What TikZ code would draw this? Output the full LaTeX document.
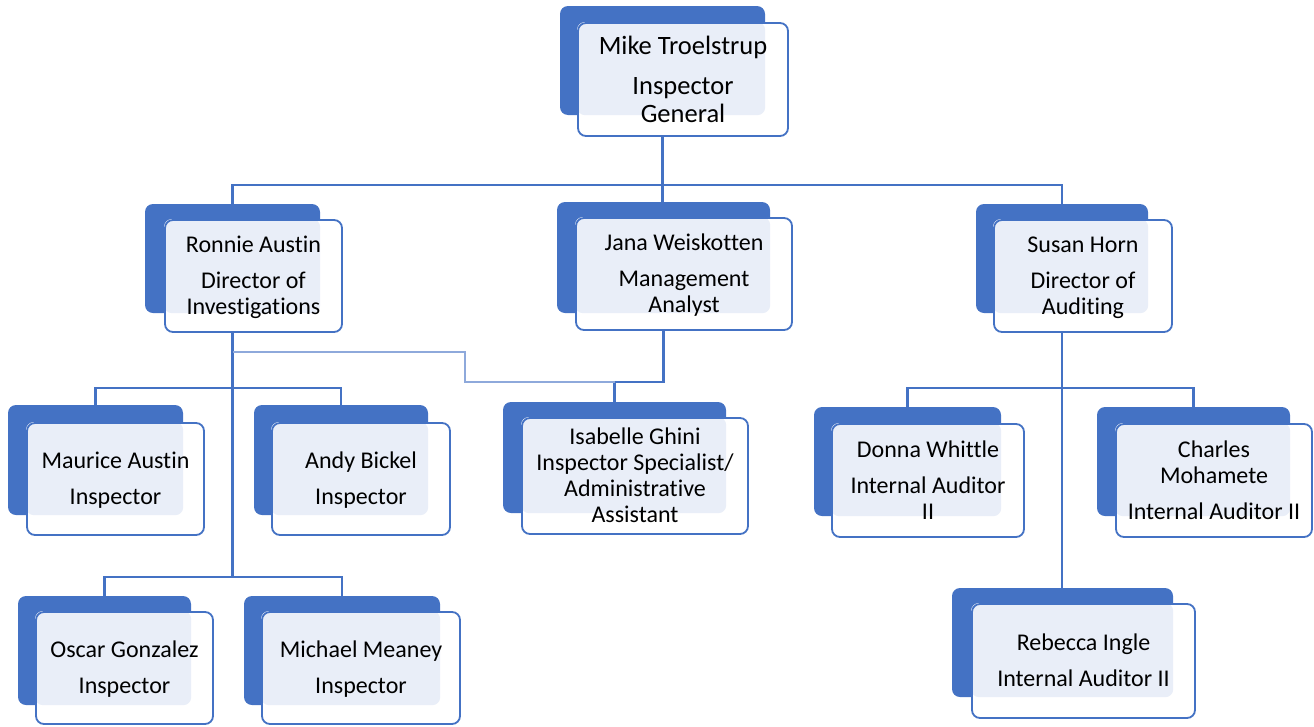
\documentclass[tikz,border=0pt]{standalone}
\usepackage{fontspec}
\setmainfont{Carlito}[Ligatures={NoCommon}]
\usetikzlibrary{calc,backgrounds}

\definecolor{orgblue}{HTML}{4472C4}
\definecolor{orglight}{HTML}{E9EEF8}
\definecolor{orgthin}{HTML}{8EA9DB}

\pgfdeclarelayer{lines}
\pgfsetlayers{lines,background,main}

\tikzset{
  backbox/.style={fill=orgblue,rounded corners=8pt,inner sep=0pt},
  card/.style={draw=orgblue,line width=1.8pt,rounded corners=8pt,inner sep=0pt,
    align=center,font=\fontsize{24}{26}\selectfont,text depth=1pt},
  link/.style={draw=orgblue,line width=2.3pt},
  dotlink/.style={draw=orgthin,line width=1.5pt}
}

\begin{document}
\begin{tikzpicture}[x=1pt,y=-1pt]
\useasboundingbox (0,0) rectangle (1314,726);

% blue boxes behind the cards
\begin{scope}[on background layer]
\node[backbox,minimum width=205pt,minimum height=109pt] (mikeB) at (662.5,60.5) {};
\node[backbox,minimum width=175pt,minimum height=109pt] (ronnieB) at (232.5,258.5) {};
\node[backbox,minimum width=213pt,minimum height=111pt] (janaB) at (663.5,257.5) {};
\node[backbox,minimum width=172pt,minimum height=109pt] (susanB) at (1062,258.5) {};
\node[backbox,minimum width=175pt,minimum height=110pt] (mauriceB) at (95.5,460) {};
\node[backbox,minimum width=174pt,minimum height=110pt] (andyB) at (341,460) {};
\node[backbox,minimum width=223pt,minimum height=111pt] (isabelleB) at (614.5,457.5) {};
\node[backbox,minimum width=187pt,minimum height=109pt] (donnaB) at (907.5,461.5) {};
\node[backbox,minimum width=193pt,minimum height=109pt] (charlesB) at (1193.5,461.5) {};
\node[backbox,minimum width=173pt,minimum height=109pt] (oscarB) at (104.5,650.5) {};
\node[backbox,minimum width=196pt,minimum height=109pt] (michaelB) at (342,650.5) {};
\node[backbox,minimum width=221pt,minimum height=109pt] (rebeccaB) at (1062.5,642.5) {};
\end{scope}

% cards with the names
\node[card,minimum width=210pt,minimum height=113pt,font=\fontsize{26.5}{28}\selectfont] (mike) at (683,79.5) {Mike Troelstrup\\[12pt]Inspector\\General};
\node[card,minimum width=177pt,minimum height=112pt] (ronnie) at (253.5,276) {Ronnie Austin\\[10pt]Director of\\Investigations};
\node[card,minimum width=216pt,minimum height=112pt] (jana) at (684,274) {Jana Weiskotten\\[10pt]Management\\Analyst};
\node[card,minimum width=178pt,minimum height=112pt] (susan) at (1083,276) {Susan Horn\\[10pt]Director of\\Auditing};
\node[card,minimum width=177pt,minimum height=112pt] (maurice) at (115.5,479) {Maurice Austin\\[10pt]Inspector};
\node[card,minimum width=178pt,minimum height=112pt] (andy) at (361,479) {Andy Bickel\\[10pt]Inspector};
\node[card,minimum width=226pt,minimum height=116pt] (isabelle) at (635,476) {Isabelle Ghini\\Inspector Specialist/\\Administrative\\Assistant};
\node[card,minimum width=192pt,minimum height=113pt] (donna) at (928,480.5) {Donna Whittle\\[10pt]Internal Auditor\\II};
\node[card,minimum width=196pt,minimum height=113pt] (charles) at (1214,480.5) {Charles\\Mohamete\\[10pt]Internal Auditor II};
\node[card,minimum width=177pt,minimum height=112pt] (oscar) at (124.5,668) {Oscar Gonzalez\\[10pt]Inspector};
\node[card,minimum width=198pt,minimum height=112pt] (michael) at (361,668) {Michael Meaney\\[10pt]Inspector};
\node[card,minimum width=223pt,minimum height=114pt] (rebecca) at (1083.5,661) {Rebecca Ingle\\[10pt]Internal Auditor II};

% card fill and the light part where the cards overlap
\begin{scope}[on background layer]
\foreach \p in {mike,ronnie,jana,susan,maurice,andy,isabelle,donna,charles,oscar,michael,rebecca}{
  \fill[white,rounded corners=8pt] (\p.north west) rectangle (\p.south east);
  \fill[orglight,rounded corners=8pt] (\p.north west) rectangle (\p B.south east);
}
\end{scope}

% connectors
\coordinate (topbus) at (0,185);
\coordinate (rbus) at (0,388);
\coordinate (lowbus) at (0,577);
\coordinate (jbus) at (0,382);
\coordinate (dbus) at (465,352);
\coordinate (sbus) at (0,388);
\begin{pgfonlayer}{lines}
\draw[link] (mikeB.center) -- (mikeB |- janaB.center);
\draw[link] (ronnieB.center) -- (ronnieB |- topbus) -- (susanB |- topbus) -- (susanB.center);
\draw[link] (ronnieB.center) -- (ronnieB |- lowbus);
\draw[link] (mauriceB.center) -- (mauriceB |- rbus) -- (andyB |- rbus) -- (andyB.center);
\draw[link] (oscarB.center) -- (oscarB |- lowbus) -- (michaelB |- lowbus) -- (michaelB.center);
\draw[link] (janaB.center) -- (janaB |- jbus) -- (isabelleB |- jbus) -- (isabelleB.center);
\draw[dotlink] (ronnieB |- dbus) -- (dbus) -- (dbus |- jbus) -- (isabelleB |- jbus);
\draw[link] (susanB.center) -- (susanB |- rebeccaB.center);
\draw[link] (donnaB.center) -- (donnaB |- sbus) -- (charlesB |- sbus) -- (charlesB.center);
\end{pgfonlayer}
\end{tikzpicture}
\end{document}
